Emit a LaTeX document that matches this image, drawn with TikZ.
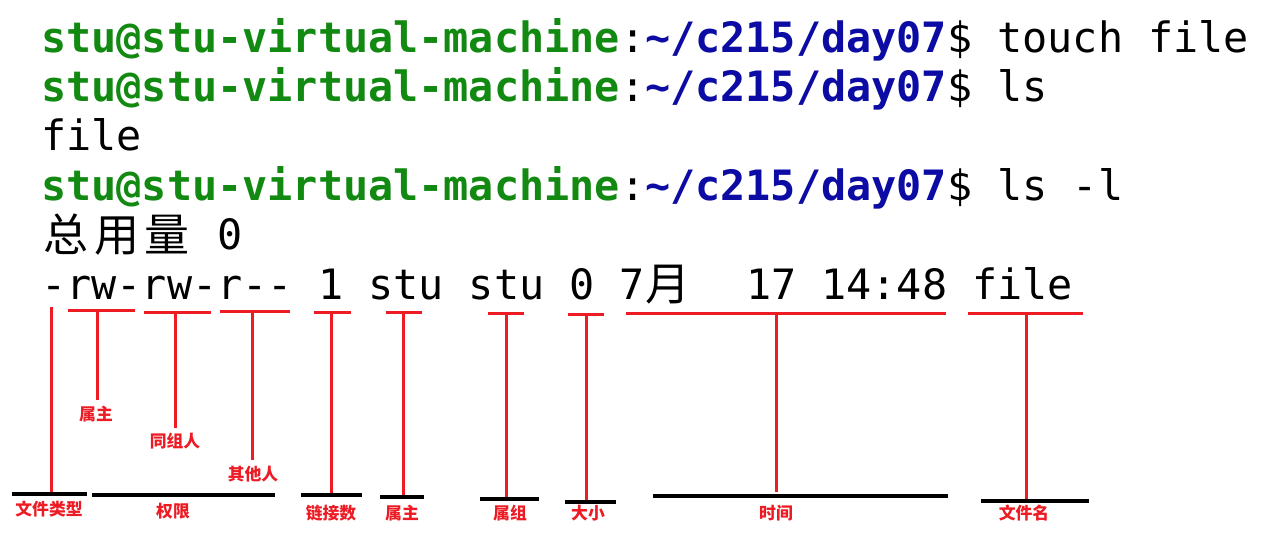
\documentclass[tikz,border=0pt]{standalone}
\usepackage{fontspec}
\setmonofont{DejaVu Sans Mono}
\newfontfamily\cjk{Noto Sans CJK SC}
\definecolor{pgreen}{RGB}{18,138,18}
\definecolor{pblue}{RGB}{12,12,165}
\definecolor{annred}{RGB}{237,28,36}
\newcommand\myprompt{\textcolor{pgreen}{\bfseries stu@stu-virtual-machine}:\textcolor{pblue}{\bfseries\textasciitilde/c215/day07}\$}
% top bar + stem: name, x1, x2, ybar, xstem, yend
\newcommand\mytbar[6]{%
  \coordinate (#1L) at (#2,#4);
  \coordinate (#1R) at (#3,#4);
  \coordinate (#1T) at (#5,#4);
  \coordinate (#1E) at (#5,#6);
  \draw[redln] (#1L) -- (#1R);
  \draw[redln] (#1T) -- (#1E);
}
\newcommand\mybase[4]{%
  \coordinate (#1bl) at (#2,#4);
  \coordinate (#1br) at (#3,#4);
  \draw[blackln] (#1bl) -- (#1br);
}
\begin{document}
\begin{tikzpicture}[x=1pt,y=-1pt,
  term/.style={anchor=base west, inner sep=0pt, font=\ttfamily\fontsize{41.8}{50}\selectfont},
  cjkterm/.style={anchor=base, inner sep=0pt, font=\cjk\fontsize{45}{50}\selectfont},
  lab/.style={anchor=center, inner sep=0pt, text=annred, font=\cjk\bfseries\fontsize{16.8}{18}\selectfont},
  redln/.style={draw=annred, line width=3pt},
  blackln/.style={draw=black, line width=3.5pt}]
\useasboundingbox (0,0) rectangle (1285,557);
\fill[white] (0,0) rectangle (1285,557);

% terminal text
\node[term] (l1) at (41,52) {\myprompt\ touch file};
\node[term] (l2) at (41,101.4) {\myprompt\ ls};
\node[term] (l3) at (41,150.8) {file};
\node[term] (l4) at (41,200.2) {\myprompt\ ls -l};
\node[cjkterm] (z1) at (66.2,251) {总};
\node[cjkterm] (z2) at (116.5,251) {用};
\node[cjkterm] (z3) at (166.8,251) {量};
\node[term] (z4) at (217.2,249.6) {0};
\node[term] (l6a) at (41,299) {-rw-rw-r-{}- 1 stu stu 0 7};
\node[cjkterm] (l6m) at (668,300) {月};
\node[term] (l6b) at (745.8,299) {17 14:48 file};

% red annotations
\coordinate (ftT) at (51,307);
\coordinate (ftE) at (51,492);
\draw[redln] (ftT) -- (ftE);
\mytbar{po}{68}{135}{310}{97}{400}
\mytbar{pg}{144}{211}{312}{175.5}{428}
\mytbar{pt}{220}{290}{311}{252}{460}
\mytbar{lk}{314}{351}{312}{331}{494}
\mytbar{ow}{386}{422}{312}{403}{497}
\mytbar{gr}{488}{524}{313}{506}{499}
\mytbar{sz}{568}{604}{314}{586}{502}
\mytbar{tm}{626}{946}{313}{776}{492}
\mytbar{fn}{968}{1083}{313}{1026}{500}

% black base lines
\mybase{ft}{12}{87}{494}
\mybase{pm}{92}{275}{495}
\mybase{lk}{301}{362}{495}
\mybase{ow}{380}{424}{497}
\mybase{gr}{480}{539}{499}
\mybase{sz}{565}{616}{502}
\mybase{tm}{653}{948}{496}
\mybase{fn}{981}{1089}{501}

% labels
\node[lab] (la1) at (96,414) {属主};
\node[lab] (la2) at (175,441) {同组人};
\node[lab] (la3) at (253,474) {其他人};
\node[lab] (la4) at (49,509) {文件类型};
\node[lab] (la5) at (173,511) {权限};
\node[lab] (la6) at (331,513) {链接数};
\node[lab] (la7) at (402,513) {属主};
\node[lab] (la8) at (510,513) {属组};
\node[lab] (la9) at (588,513) {大小};
\node[lab] (la10) at (776,513) {时间};
\node[lab] (la11) at (1024,513) {文件名};
\end{tikzpicture}
\end{document}
